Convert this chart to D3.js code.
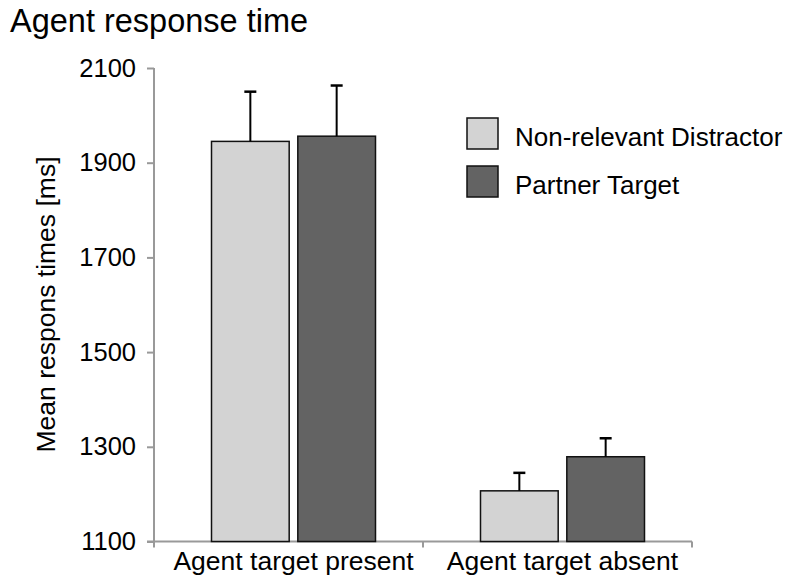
<!DOCTYPE html>
<html>
<head>
<meta charset="utf-8">
<script src="https://cdn.jsdelivr.net/npm/d3@7"></script>
<style>
  html, body { margin: 0; padding: 0; background: #fff; }
  svg { display: block; font-family: "Liberation Sans", Arial, Helvetica, sans-serif; }
</style>
</head>
<body>
<svg id="chart" width="790" height="579"></svg>
<script>
// Data
const categories = ["Agent target present", "Agent target absent"];
const seriesNames = ["Non-relevant Distractor", "Partner Target"];
const nonRelevantMeans = [1945, 1207];
const partnerMeans = [1956, 1279];
const nonRelevantErr = [105, 38];
const partnerErr = [107, 39];
const yTicks = [1100, 1300, 1500, 1700, 1900, 2100];
const seriesColors = ["#d3d3d3", "#636363"];

const rows = categories.map((c, i) => ({
  category: c,
  values: [
    { series: seriesNames[0], mean: nonRelevantMeans[i], err: nonRelevantErr[i] },
    { series: seriesNames[1], mean: partnerMeans[i], err: partnerErr[i] }
  ]
}));

const svg = d3.select("#chart");
const axisColor = "#999999";
const fontFamily = "'Liberation Sans', Arial, Helvetica, sans-serif";

// Scales
const y = d3.scaleLinear().domain([1100, 2100]).range([541.5, 68]);
const x0 = d3.scaleBand().domain(categories).range([154, 692]).padding(0);
const x1 = d3.scaleBand().domain(seriesNames).range([57.5, 221.5]).paddingInner(0.1).paddingOuter(0);
const color = d3.scaleOrdinal().domain(seriesNames).range(seriesColors);

// Title
svg.append("text")
  .attr("x", 10).attr("y", 32)
  .attr("font-size", 32.5)
  .attr("fill", "#000")
  .text("Agent response time");

// Y axis
const yAxis = d3.axisLeft(y).tickValues(yTicks).tickFormat(d3.format("d"))
  .tickSize(7).tickSizeOuter(0).tickPadding(11);
const gy = svg.append("g").attr("transform", "translate(154,0)").call(yAxis);
gy.select(".domain").attr("stroke", axisColor).attr("stroke-width", 2)
  .attr("d", `M0,${y(2100)}V${y(1100) + 6}`);
gy.selectAll(".tick line").attr("stroke", axisColor).attr("stroke-width", 2);
gy.selectAll(".tick text").attr("font-size", 25.5).attr("fill", "#000")
  .attr("font-family", fontFamily);

// Y axis title
svg.append("text")
  .attr("transform", `translate(55,304.5) rotate(-90)`)
  .attr("text-anchor", "middle")
  .attr("font-size", 26.5)
  .attr("fill", "#000")
  .text("Mean respons times [ms]");

// X axis
const gx = svg.append("g");
gx.append("line")
  .attr("x1", 147).attr("x2", 692)
  .attr("y1", y(1100)).attr("y2", y(1100))
  .attr("stroke", axisColor).attr("stroke-width", 2);
const boundaries = categories.map(c => x0(c) + x0.bandwidth());
gx.selectAll("line.sep").data(boundaries).join("line")
  .attr("class", "sep")
  .attr("x1", d => d).attr("x2", d => d)
  .attr("y1", y(1100)).attr("y2", y(1100) + 6)
  .attr("stroke", axisColor).attr("stroke-width", 2);

// Bars
const groups = svg.append("g").selectAll("g.group").data(rows).join("g")
  .attr("class", "group")
  .attr("transform", d => `translate(${x0(d.category)},0)`);

groups.selectAll("rect").data(d => d.values).join("rect")
  .attr("x", d => x1(d.series))
  .attr("y", d => y(d.mean))
  .attr("width", x1.bandwidth())
  .attr("height", d => y(1100) - y(d.mean))
  .attr("fill", d => color(d.series))
  .attr("stroke", "#111")
  .attr("stroke-width", 1.5);

// Error bars (upper only)
const capW = 12;
groups.selectAll("line.err").data(d => d.values).join("line")
  .attr("class", "err")
  .attr("x1", d => x1(d.series) + x1.bandwidth() / 2)
  .attr("x2", d => x1(d.series) + x1.bandwidth() / 2)
  .attr("y1", d => y(d.mean))
  .attr("y2", d => y(d.mean + d.err))
  .attr("stroke", "#000").attr("stroke-width", 2);
groups.selectAll("line.cap").data(d => d.values).join("line")
  .attr("class", "cap")
  .attr("x1", d => x1(d.series) + x1.bandwidth() / 2 - capW / 2)
  .attr("x2", d => x1(d.series) + x1.bandwidth() / 2 + capW / 2)
  .attr("y1", d => y(d.mean + d.err))
  .attr("y2", d => y(d.mean + d.err))
  .attr("stroke", "#000").attr("stroke-width", 2.5);

// Category labels, centred under each bar pair
groups.append("text")
  .attr("x", (x1.range()[0] + x1.range()[1]) / 2)
  .attr("y", 570)
  .attr("text-anchor", "middle")
  .attr("font-size", 26.5)
  .attr("fill", "#000")
  .text(d => d.category);

// Legend
const legend = svg.append("g").attr("transform", "translate(467,118)");
const li = legend.selectAll("g").data(seriesNames).join("g")
  .attr("transform", (d, i) => `translate(0,${i * 48})`);
li.append("rect")
  .attr("width", 31).attr("height", 31)
  .attr("fill", d => color(d))
  .attr("stroke", "#111").attr("stroke-width", 1.5);
li.append("text")
  .attr("x", 48).attr("y", 28)
  .attr("font-size", 26)
  .attr("fill", "#000")
  .text(d => d);
</script>
</body>
</html>
